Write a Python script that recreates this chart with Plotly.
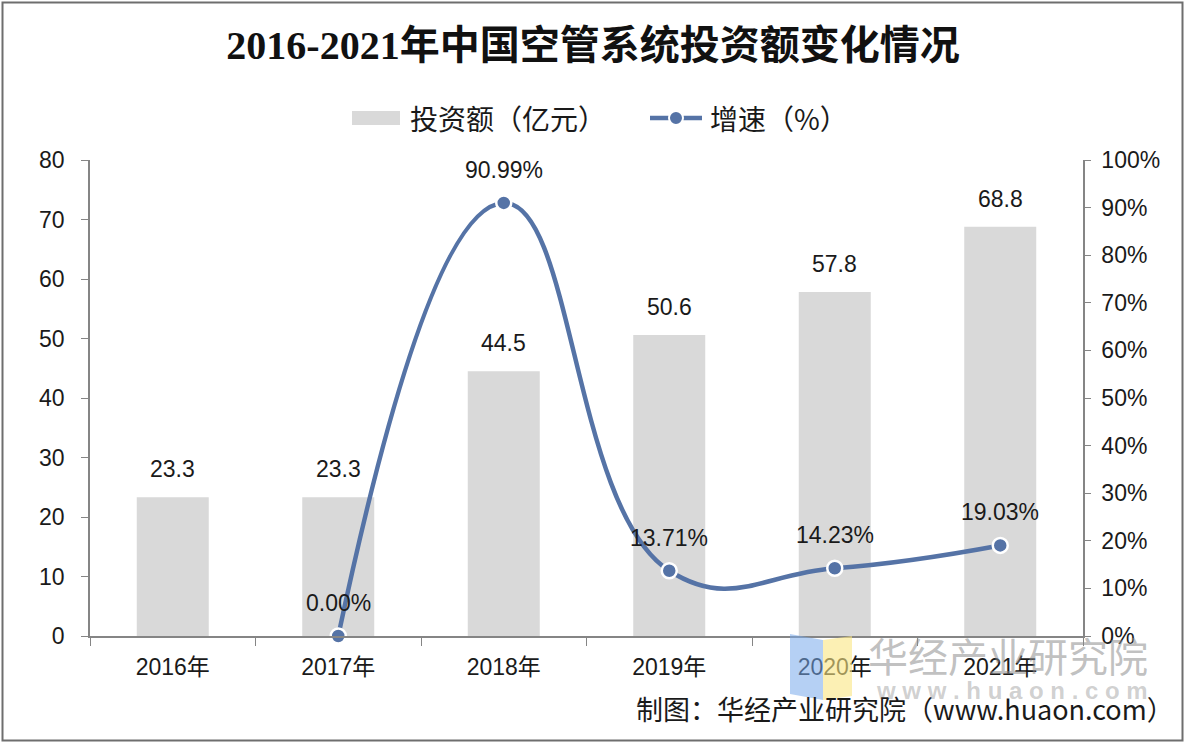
import plotly.graph_objects as go
from plotly.subplots import make_subplots

years = ["2016年", "2017年", "2018年", "2019年", "2020年", "2021年"]
investment = [23.3, 23.3, 44.5, 50.6, 57.8, 68.8]
growth = [None, 0.00, 90.99, 13.71, 14.23, 19.03]
growth_labels = ["", "0.00%", "90.99%", "13.71%", "14.23%", "19.03%"]
left_ticks = [0, 10, 20, 30, 40, 50, 60, 70, 80]
right_ticks = [0, 10, 20, 30, 40, 50, 60, 70, 80, 90, 100]

W, H = 1186, 744
ML, MR, MT, MB = 90, 103, 160, 108
PW, PH = W - ML - MR, H - MT - MB

def px(x):
    return (x - ML) / PW

def py(y):
    return (H - MB - y) / PH

FONT = "Liberation Sans, Arial, Noto Sans CJK SC, sans-serif"
CJK = "Noto Sans CJK SC, sans-serif"
LINE_C = "#5573A6"
BAR_C = "#D9D9D9"
AXIS_C = "#858585"
TXT_C = "#1a1a1a"

fig = make_subplots(specs=[[{"secondary_y": True}]])

fig.add_trace(go.Bar(
    x=years, y=investment, name="投资额（亿元）",
    marker=dict(color=BAR_C, line=dict(width=0)),
    showlegend=False,
), secondary_y=False)

fig.add_trace(go.Scatter(
    x=years, y=growth, name="增速（%）", mode="lines+markers",
    line=dict(color=LINE_C, width=4.5, shape="spline", smoothing=1.3),
    marker=dict(color=LINE_C, size=15, line=dict(color="white", width=2.5)),
    connectgaps=False, cliponaxis=False, showlegend=False,
), secondary_y=True)

# data labels
for yr, v in zip(years, investment):
    fig.add_annotation(x=yr, y=v, xref="x", yref="y", text=f"{v:.1f}",
                       showarrow=False, yanchor="middle", yshift=28,
                       font=dict(size=23, color=TXT_C, family=FONT))
for yr, v, lab in zip(years, growth, growth_labels):
    if v is None:
        continue
    fig.add_annotation(x=yr, y=v, xref="x", yref="y2", text=lab,
                       showarrow=False, yanchor="middle", yshift=33,
                       font=dict(size=23, color=TXT_C, family=FONT))

fig.update_layout(
    width=W, height=H,
    margin=dict(l=ML, r=MR, t=MT, b=MB, autoexpand=False),
    paper_bgcolor="white", plot_bgcolor="white",
    bargap=0.565,
    font=dict(family=FONT, size=23, color=TXT_C),
    title=dict(
        text="<b>2016-2021年中国空管系统投资额变化情况</b>",
        x=0.5, xanchor="center", xref="container",
        y=1 - 45 / H, yanchor="middle", yref="container",
        font=dict(size=40, color="#111111", family="Liberation Serif, Noto Sans CJK SC, serif"),
    ),
    showlegend=False,
)

fig.update_xaxes(
    domain=[0, 1],
    showline=True, linecolor=AXIS_C, linewidth=1.5,
    ticks="outside", tickson="boundaries", ticklen=8, tickcolor=AXIS_C,
    tickfont=dict(size=23, color=TXT_C, family=FONT),
    ticklabelstandoff=10,
    showgrid=False, range=[-0.5, 5.5], automargin=False,
)
fig.update_yaxes(
    range=[0, 80], tickvals=left_ticks, showgrid=False, zeroline=False,
    showline=True, linecolor=AXIS_C, linewidth=1.5,
    ticks="outside", ticklen=7, tickcolor=AXIS_C,
    tickfont=dict(size=23, color=TXT_C, family=FONT),
    ticklabelstandoff=12, automargin=False,
    secondary_y=False,
)
fig.update_yaxes(
    range=[0, 100], tickvals=right_ticks, ticktext=[f"{v}%" for v in right_ticks],
    showgrid=False, zeroline=False,
    showline=True, linecolor=AXIS_C, linewidth=1.5,
    ticks="outside", ticklen=6, tickcolor=AXIS_C,
    tickfont=dict(size=23, color=TXT_C, family=FONT),
    ticklabelstandoff=6, automargin=False,
    secondary_y=True,
)

# custom legend
fig.add_shape(type="rect", xref="paper", yref="paper",
              x0=px(352), x1=px(400), y0=py(125), y1=py(111),
              fillcolor=BAR_C, line=dict(width=0), layer="above")
fig.add_annotation(xref="paper", yref="paper", x=px(408), y=py(118), text="投资额（亿元）",
                   showarrow=False, xanchor="left", yanchor="middle",
                   font=dict(size=28, color=TXT_C, family=CJK))
fig.add_shape(type="line", xref="paper", yref="paper",
              x0=px(650), x1=px(702), y0=py(118), y1=py(118),
              line=dict(color=LINE_C, width=4.5), layer="above")
fig.add_shape(type="circle", xref="paper", yref="paper",
              x0=px(669), x1=px(683), y0=py(125), y1=py(111),
              fillcolor=LINE_C, line=dict(color="white", width=2), layer="above")
fig.add_annotation(xref="paper", yref="paper", x=px(708), y=py(118), text="增速（%）",
                   showarrow=False, xanchor="left", yanchor="middle",
                   font=dict(size=28, color=TXT_C, family=CJK))

# outer border
fig.add_shape(type="rect", xref="paper", yref="paper",
              x0=px(2.5), x1=px(1182.5), y0=py(740.5), y1=py(2.5),
              line=dict(color="#6E6E6E", width=2), fillcolor="rgba(0,0,0,0)", layer="above")

# watermark logo
fig.add_shape(type="path", xref="paper", yref="paper",
              path=f"M {px(790)} {py(634)} L {px(823)} {py(640)} L {px(823)} {py(700)} L {px(790)} {py(694)} Z",
              fillcolor="rgba(120,170,235,0.55)", line=dict(width=0), layer="above")
fig.add_shape(type="path", xref="paper", yref="paper",
              path=f"M {px(823)} {py(640)} L {px(852)} {py(636)} L {px(852)} {py(696)} L {px(823)} {py(700)} Z",
              fillcolor="rgba(250,230,130,0.6)", line=dict(width=0), layer="above")

fig.add_annotation(xref="paper", yref="paper", x=px(1008), y=py(655),
                   text="华经产业研究院", showarrow=False, xanchor="center", yanchor="middle",
                   font=dict(size=40, color="rgba(140,140,140,0.55)", family=CJK))
fig.add_annotation(xref="paper", yref="paper", x=px(1012), y=py(690),
                   text="<b>w w w . h u a o n . c o m</b>", showarrow=False,
                   xanchor="center", yanchor="middle",
                   font=dict(size=24, color="rgba(150,150,150,0.45)", family=FONT))

# source note
fig.add_annotation(xref="paper", yref="paper", x=px(1176), y=py(708),
                   text="制图：华经产业研究院（www.huaon.com）", showarrow=False,
                   xanchor="right", yanchor="middle",
                   font=dict(size=27, color=TXT_C, family=CJK))

fig.write_html("out.html", post_script="document.body.style.margin='0';",
               config={"displayModeBar": False})
